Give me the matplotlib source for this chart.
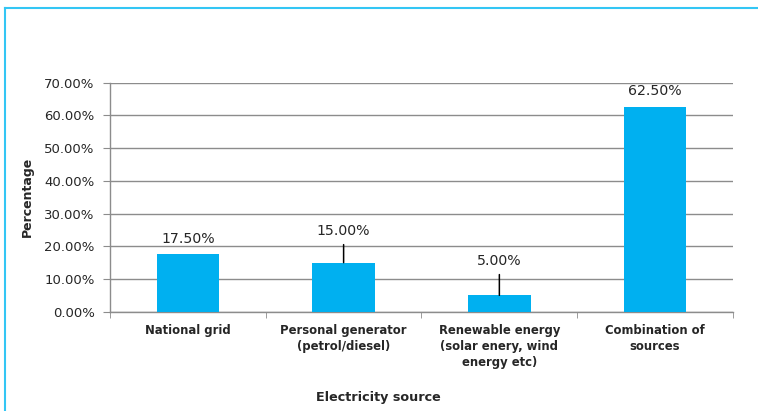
import matplotlib
matplotlib.use("Agg")
import matplotlib.pyplot as plt
from matplotlib.lines import Line2D

plt.rcParams['font.family'] = ['DejaVu Sans']

# Share of respondents by main electricity source
categories = ['National grid', 'Personal generator\n(petrol/diesel)',
              'Renewable energy\n(solar enery, wind\nenergy etc)',
              'Combination of\nsources']
percentages = [17.50, 15.00, 5.00, 62.50]
y_ticks = [0, 10, 20, 30, 40, 50, 60, 70]

bar_color = '#00B0F0'
grid_color = '#8C8C8C'
text_color = '#262626'

fig = plt.figure(figsize=(7.58, 4.11), dpi=100)
ax = fig.add_axes([0.1451, 0.2416, 0.8219, 0.5572])

x = list(range(len(categories)))
ax.bar(x, percentages, width=0.40, color=bar_color, zorder=3)

ax.set_xlim(-0.5, len(categories) - 0.5)
ax.set_ylim(0, 70)
ax.set_yticks(y_ticks)
ax.set_yticklabels([f'{t:.2f}%' for t in y_ticks], fontsize=9.5, color=text_color)
ax.yaxis.grid(True, color=grid_color, linewidth=1.0, zorder=0)
ax.set_axisbelow(True)

# category labels under the bar centers, tick marks at the boundaries
ax.set_xticks(x)
ax.set_xticklabels(categories, fontsize=8.4, fontweight='bold', color=text_color,
                   linespacing=1.3)
ax.tick_params(axis='x', which='major', length=0, pad=9)
ax.set_xticks([i - 0.5 for i in range(len(categories) + 1)], minor=True)
ax.tick_params(axis='x', which='minor', length=4, color=grid_color, direction='out')
ax.tick_params(axis='y', length=5, color=grid_color, pad=6)

for side in ['top', 'right']:
    ax.spines[side].set_visible(False)
for side in ['left', 'bottom']:
    ax.spines[side].set_color(grid_color)
    ax.spines[side].set_linewidth(1.0)

ax.set_ylabel('Percentage', fontsize=9, fontweight='bold', color=text_color,
              va='center')
ax.yaxis.set_label_coords(-0.132, 0.503)
ax.set_xlabel('Electricity source', fontsize=9.2, fontweight='bold', color=text_color,
              va='center')
ax.xaxis.set_label_coords(0.431, -0.373)

# value labels; the two small middle bars have their labels pulled up with leader lines
label_offsets = [11, 23, 25, 12]
leader = [False, True, True, False]
for xi, val, off, has_line in zip(x, percentages, label_offsets, leader):
    arrow = dict(arrowstyle='-', color='black', lw=1.1, shrinkA=3, shrinkB=0) if has_line else None
    ax.annotate(f'{val:.2f}%', xy=(xi, val), xytext=(0, off), textcoords='offset points',
                ha='center', va='center', fontsize=10.2, color=text_color,
                arrowprops=arrow, zorder=4)

# light blue frame along the top and left edge
frame_color = '#33C6F4'
fig.add_artist(Line2D([0.0066, 1.0], [0.980, 0.980], color=frame_color, lw=1.5,
                      transform=fig.transFigure))
fig.add_artist(Line2D([0.0066, 0.0066], [0.0, 0.980], color=frame_color, lw=1.5,
                      transform=fig.transFigure))

fig.savefig('out.png', dpi=100)
